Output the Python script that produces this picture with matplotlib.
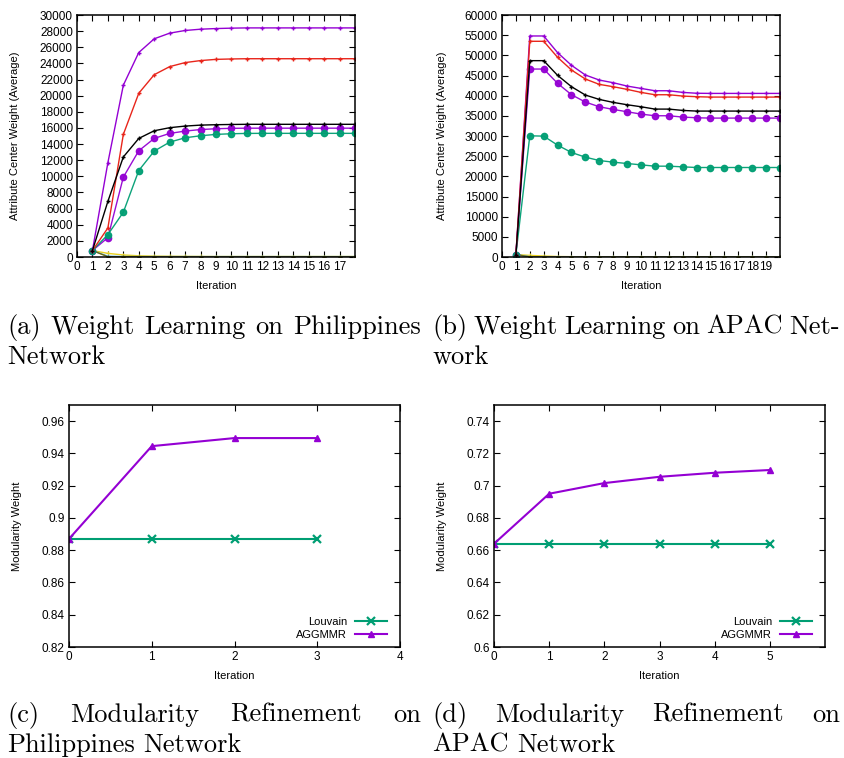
import matplotlib
matplotlib.use("Agg")
from matplotlib import pyplot as plt
from matplotlib.ticker import FuncFormatter
import numpy as np

# ---- data ----
# (a) Philippines, attribute center weights, iterations 1..18
ph_iter = list(range(1, 19))
ph_plus_purple = [800, 11700, 21300, 25350, 27050, 27750, 28080, 28240, 28320, 28370,
                  28400, 28400, 28400, 28400, 28400, 28400, 28400, 28400]
ph_plus_red = [800, 3600, 15200, 20300, 22600, 23600, 24100, 24350, 24500, 24550,
               24580, 24580, 24580, 24580, 24580, 24580, 24580, 24580]
ph_plus_black = [800, 6900, 12400, 14700, 15650, 16030, 16230, 16350, 16400, 16430,
                 16450, 16450, 16450, 16450, 16450, 16450, 16450, 16450]
ph_dot_purple = [800, 2400, 9900, 13170, 14700, 15320, 15610, 15800, 15900, 15950,
                 15970, 15970, 15970, 15970, 15970, 15970, 15970, 15970]
ph_dot_green = [800, 2780, 5550, 10720, 13130, 14240, 14780, 15030, 15200, 15280,
                15320, 15330, 15330, 15330, 15330, 15330, 15330, 15330]
ph_yellow = [800, 450, 250, 150, 110, 90, 80, 70, 60, 60, 60, 60, 60, 60, 60, 60, 60, 60]
ph_blue = [800, 100, 60, 50, 50, 50, 50, 50, 50, 50, 50, 50, 50, 50, 50, 50, 50, 50]
ph_olive = [800, 30, 20, 10, 10, 10, 10, 10, 10, 10, 10, 10, 10, 10, 10, 10, 10, 10]

# (b) APAC, iterations 1..20
ap_iter = list(range(1, 21))
ap_plus_purple = [600, 54800, 54800, 50660, 47520, 45120, 43870, 43210, 42380, 41800,
                  41220, 41220, 40810, 40600, 40560, 40560, 40560, 40560, 40560, 40560]
ap_plus_red = [600, 53480, 53480, 49500, 46360, 44120, 42800, 42220, 41560, 40810,
               40230, 40230, 39900, 39740, 39650, 39650, 39650, 39650, 39650, 39650]
ap_plus_black = [600, 48680, 48680, 45030, 42220, 40150, 39070, 38330, 37750, 37250,
                 36670, 36670, 36340, 36180, 36180, 36180, 36180, 36180, 36180, 36180]
ap_dot_purple = [600, 46600, 46600, 43050, 40230, 38410, 37250, 36590, 36010, 35430,
                 35020, 35020, 34690, 34520, 34440, 34440, 34440, 34440, 34440, 34440]
ap_dot_green = [600, 30050, 29970, 27730, 25910, 24750, 23920, 23510, 23180, 22850,
                22520, 22520, 22350, 22190, 22190, 22190, 22190, 22190, 22190, 22190]
ap_yellow = [600, 400, 250, 120, 80, 60, 50, 50, 50, 50, 50, 50, 50, 50, 50, 50, 50, 50, 50, 50]
ap_blue = [600, 80, 50, 40, 40, 40, 40, 40, 40, 40, 40, 40, 40, 40, 40, 40, 40, 40, 40, 40]
ap_olive = [600, 20, 10, 10, 10, 10, 10, 10, 10, 10, 10, 10, 10, 10, 10, 10, 10, 10, 10, 10]

# (c) Philippines modularity
phm_iter = [0, 1, 2, 3]
phm_louvain = [0.887, 0.887, 0.887, 0.887]
phm_aggmmr = [0.887, 0.9445, 0.9495, 0.9495]

# (d) APAC modularity
apm_iter = [0, 1, 2, 3, 4, 5]
apm_louvain = [0.664, 0.664, 0.664, 0.664, 0.664, 0.664]
apm_aggmmr = [0.664, 0.695, 0.7016, 0.7055, 0.708, 0.7097]

PURPLE = "#9400d3"
RED = "#e8251b"
GREEN = "#009e73"
YELLOW = "#e8d020"
LBLUE = "#56b4e9"
OLIVE = "#6b6a10"

plt.rcParams['font.family'] = ['Liberation Sans', 'DejaVu Sans']

W, H = 845, 758
fig = plt.figure(figsize=(W / 100, H / 100), dpi=100)


def px_axes(l, t, r, b):
    return fig.add_axes([l / W, 1 - b / H, (r - l) / W, (b - t) / H])


def style(ax):
    ax.tick_params(direction='in', top=True, right=True, length=4, width=0.8,
                   labelsize=8.5, pad=3)
    for s in ax.spines.values():
        s.set_linewidth(1.1)


def weight_plot(ax, it, plus_series, dot_series, low_series, xmax, ymax, ystep):
    for vals, c in zip(low_series, [YELLOW, LBLUE, OLIVE]):
        ax.plot(it, vals, color=c, lw=1.0, marker='+', ms=3, mew=0.8)
    for vals, c in zip(dot_series, [PURPLE, GREEN]):
        ax.plot(it, vals, color=c, lw=1.0, marker='o', ms=4.5, alpha=0.95)
    for vals, c in zip(plus_series, [PURPLE, RED, 'black']):
        ax.plot(it, vals, color=c, lw=1.0, marker='+', ms=3, mew=1.0)
    ax.set_xlim(0, xmax)
    ax.set_ylim(0, ymax)
    ax.set_xticks(range(0, xmax))
    ax.set_yticks(np.arange(0, ymax + 1, ystep))
    style(ax)
    ax.set_xlabel('Iteration', fontsize=8)
    ax.set_ylabel('Attribute Center Weight (Average)', fontsize=8)
    ax.xaxis.set_label_coords(0.5, -0.099)


ax_a = px_axes(77, 15, 355, 257)
weight_plot(ax_a, ph_iter, [ph_plus_purple, ph_plus_red, ph_plus_black],
            [ph_dot_purple, ph_dot_green], [ph_yellow, ph_blue, ph_olive], 18, 30000, 2000)
ax_a.yaxis.set_label_coords(-0.205, 0.5)

ax_b = px_axes(502, 15, 780, 257)
weight_plot(ax_b, ap_iter, [ap_plus_purple, ap_plus_red, ap_plus_black],
            [ap_dot_purple, ap_dot_green], [ap_yellow, ap_blue, ap_olive], 20, 60000, 5000)
ax_b.yaxis.set_label_coords(-0.198, 0.5)


def mod_plot(ax, it, lou, agg, xmax, xticks, ylo, yhi):
    ax.plot(it, lou, color=GREEN, lw=1.5, marker='x', ms=6, mew=1.6, label='Louvain')
    ax.plot(it, agg, color=PURPLE, lw=1.5, marker='^', ms=4.5, label='AGGMMR')
    ax.set_xlim(0, xmax)
    ax.set_ylim(ylo, yhi)
    ax.set_xticks(xticks)
    ax.set_yticks(np.arange(ylo, yhi - 0.005, 0.02))
    ax.yaxis.set_major_formatter(FuncFormatter(lambda v, p: '%g' % round(v, 2)))
    style(ax)
    ax.set_xlabel('Iteration', fontsize=8)
    ax.set_ylabel('Modularity Weight', fontsize=8)
    ax.yaxis.set_label_coords(-0.142, 0.5)
    ax.xaxis.set_label_coords(0.5, -0.099)
    ax.legend(loc='lower right', bbox_to_anchor=(1 - 13 / 331, 7.5 / 242),
              frameon=False, markerfirst=False, fontsize=8,
              handlelength=2.9, labelspacing=0.2, handletextpad=0.7,
              borderaxespad=0, borderpad=0)


ax_c = px_axes(69, 405, 400, 647)
mod_plot(ax_c, phm_iter, phm_louvain, phm_aggmmr, 4, range(0, 5), 0.82, 0.97)

ax_d = px_axes(494, 405, 825, 647)
mod_plot(ax_d, apm_iter, apm_louvain, apm_aggmmr, 6, range(0, 6), 0.60, 0.75)

# ---- captions (LaTeX-like, justified) ----
CAP_FS = 19
renderer = fig.canvas.get_renderer()


def caption_line(text, x0, x1, y, justify=True):
    words = text.split()
    ts = [fig.text(x0 / W, 1 - y / H, w, fontsize=CAP_FS, family='cmr10',
                   va='baseline', ha='left') for w in words]
    widths = [t.get_window_extent(renderer).width for t in ts]
    if justify and len(words) > 1:
        gap = (x1 - x0 - sum(widths)) / (len(words) - 1)
    else:
        gap = CAP_FS * 100 / 72 * 0.333
    x = x0
    for t, w in zip(ts, widths):
        t.set_x(x / W)
        x += w + gap


caption_line('(a) Weight Learning on Philippines', 7, 421, 334)
caption_line('Network', 7, 421, 364, justify=False)
caption_line('(b) Weight Learning on APAC Net-', 432, 840, 334)
caption_line('work', 432, 840, 364, justify=False)
caption_line('(c) Modularity Refinement on', 7, 421, 722)
caption_line('Philippines Network', 7, 421, 752, justify=False)
caption_line('(d) Modularity Refinement on', 432, 840, 722)
caption_line('APAC Network', 432, 840, 752, justify=False)

fig.savefig('out.png', dpi=100)
